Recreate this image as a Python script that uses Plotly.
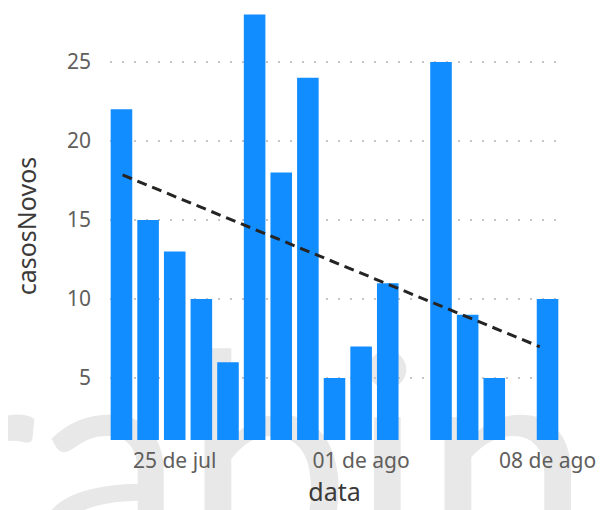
import plotly.graph_objects as go

# ---- data ----
dates = ["2020-07-23", "2020-07-24", "2020-07-25", "2020-07-26", "2020-07-27",
         "2020-07-28", "2020-07-29", "2020-07-30", "2020-07-31", "2020-08-01",
         "2020-08-02", "2020-08-04", "2020-08-05", "2020-08-06", "2020-08-08"]
casos_novos = [22, 15, 13, 10, 6, 28, 18, 24, 5, 7, 11, 25, 9, 5, 10]

trend_x = ["2020-07-23 01:00", "2020-08-07 17:00"]
trend_y = [17.85, 6.98]

tick_vals = ["2020-07-25", "2020-08-01", "2020-08-08"]
tick_text = ["25 de jul", "01 de ago", "08 de ago"]
y_ticks = [5, 10, 15, 20, 25]

watermark = "rabine"

TICK = "#605E5C"
TITLE = "#3B3A39"
FONT = "Noto Sans"

fig = go.Figure()
fig.add_trace(go.Bar(x=dates, y=casos_novos, marker=dict(color="#118DFF", line=dict(width=0)),
                     showlegend=False))
fig.add_trace(go.Scatter(x=trend_x, y=trend_y, mode="lines",
                         line=dict(color="#252423", width=3, dash="10px,6px"),
                         showlegend=False))

fig.update_layout(
    width=604, height=510,
    margin=dict(l=102, r=53, t=4, b=78, autoexpand=False),
    paper_bgcolor="white", plot_bgcolor="rgba(0,0,0,0)",
    bargap=0.19,
    font=dict(family=FONT, color=TICK),
    shapes=[dict(
        type="rect", xref="paper", yref="paper",
        x0=-0.42, x1=1.3, y0=-0.3935, y1=0.3505,
        line=dict(width=0), fillcolor="rgba(0,0,0,0)", layer="below",
        label=dict(text=watermark, textposition="middle left",
                   font=dict(family="Lato", size=300, color="#e8e8e8")),
    )],
)
fig.update_xaxes(
    type="date", automargin=False,
    range=["2020-07-22 13:40", "2020-08-08 10:20"],
    tickvals=tick_vals, ticktext=tick_text,
    tickfont=dict(size=21, color=TICK),
    showgrid=False, zeroline=False, showline=False,
    ticks="", ticklabelstandoff=6,
    title=dict(text="data", font=dict(size=25, color=TITLE), standoff=8),
)
fig.update_yaxes(
    automargin=False,
    range=[1.08, 28.16],
    tickvals=y_ticks,
    tickfont=dict(size=21, color=TICK),
    showgrid=True, gridcolor="#C8C6C4", griddash="2px,10px", gridwidth=1.5,
    zeroline=False, showline=False, ticks="", ticklabelstandoff=18,
    title=dict(text="casosNovos", font=dict(size=25, color=TITLE), standoff=23),
)

fig.write_html("out.html")
